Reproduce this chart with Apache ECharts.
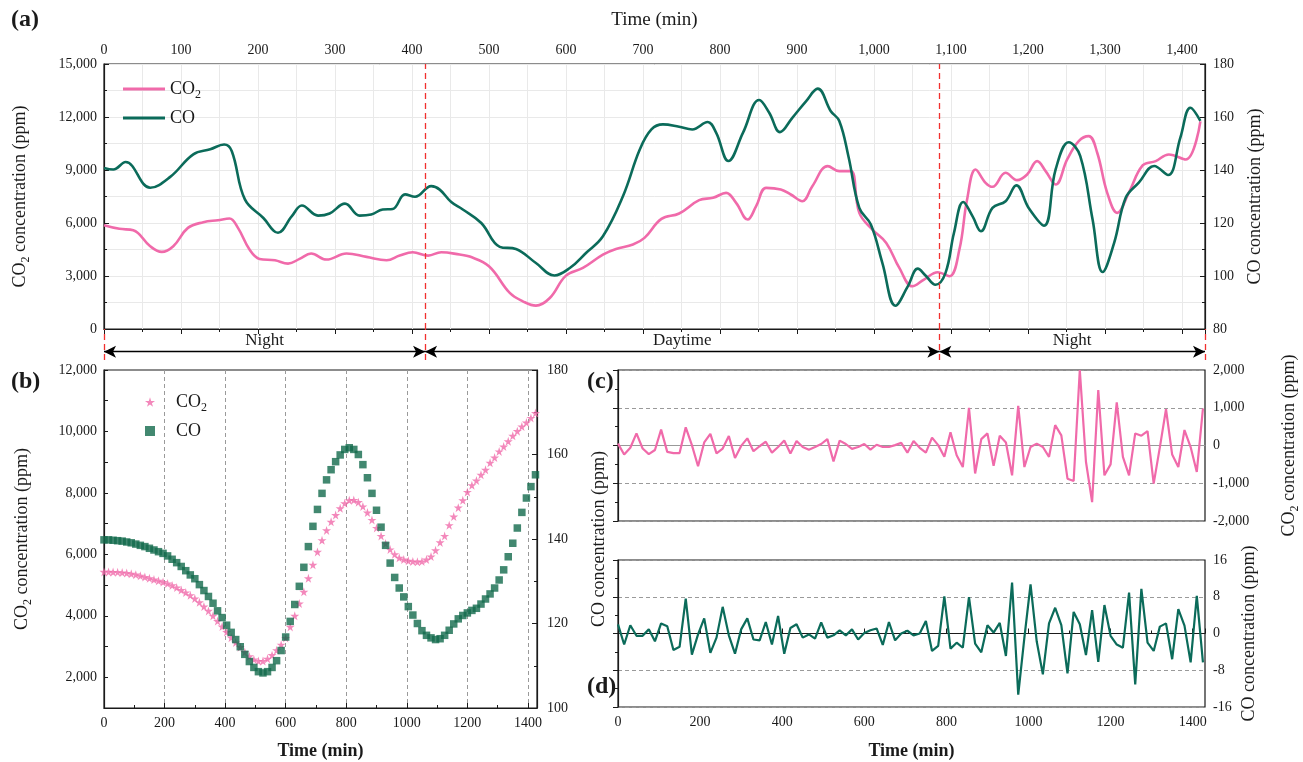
<!DOCTYPE html>
<html><head><meta charset="utf-8">
<script src="https://cdn.jsdelivr.net/npm/echarts@6/dist/echarts.min.js"></script>
<style>html,body{margin:0;padding:0;background:#fff}#c{width:1303px;height:762px}</style>
</head><body><div id="c"></div>
<script>
// ---------- Panel (a): smoothed time series ----------
const timeA_CO2 = [0,20,38,60,75,90,109,129,148,163,174,189,202,222,239,254,269,289,315,341,367,384,401,421,438,462,475,500,527,544,561,579,600,622,648,665,687,702,724,747,773,791,808,821,836,847,860,879,892,907,920,940,955,970,981,998,1016,1033,1050,1065,1083,1098,1111,1121,1132,1145,1154,1171,1186,1199,1212,1223,1236,1251,1266,1279,1290,1303,1316,1331,1349,1366,1383,1405,1424];
const valA_CO2  = [5875,5670,5590,4685,4364,4685,5724,6045,6159,6253,5724,4496,3967,3892,3703,3967,4270,3930,4270,4081,3892,4156,4345,4156,4345,4213,4100,3550,2040,1568,1322,1757,3023,3457,4213,4534,4779,5157,6234,6537,7292,7424,7708,7141,6196,6952,7991,7897,7613,7235,8085,9219,8936,8936,6574,5630,4874,3457,2418,2796,3212,2985,4496,7330,9030,8275,8048,8842,8426,8747,9502,8936,8180,9597,10636,10919,9975,7708,6574,7708,9257,9502,9880,9597,11750];
const timeA_CO = [0,12,28,60,86,116,138,156,166,183,207,226,244,257,278,293,313,332,347,362,375,391,404,425,436,451,466,490,514,535,561,585,605,626,648,674,696,711,726,747,764,784,795,811,830,851,864,878,894,912,927,944,955,967,981,996,1011,1028,1044,1057,1067,1080,1093,1104,1116,1128,1139,1154,1171,1185,1201,1221,1236,1253,1268,1284,1297,1312,1327,1344,1364,1382,1398,1411,1424];
const valA_CO  = [140.8,140.2,143,133.3,137.4,145.9,147.8,149.6,147.1,128.9,121.9,116.3,122.6,126.6,122.8,123.6,127.3,122.8,123.2,125.1,125.3,130.8,129.9,133.9,132.6,127.9,125.1,120,111,110.2,104.9,100.2,103,108.7,115,130.1,147.8,155.3,157.2,156.3,155.3,158.1,154.1,143.4,154.1,166.4,161.6,154.3,159.7,166,170.7,162.2,158.5,145,125.7,119.4,104.9,88.8,96.1,102.8,100.2,96.7,101.2,116.3,127.9,122.6,116.9,125.7,128.2,134.2,125.7,119,140.2,150.5,145.2,121.3,101.5,112.5,129.5,135.2,141.5,138.1,152.2,163.5,158.5];
const periodNames  = ['Night','Daytime','Night'];
const periodBounds = [0,417,1085,1430];

// ---------- Panels (b)(c)(d): 15-min samples ----------
const times15 = [0,15,30,45,60,75,90,105,120,135,150,165,180,195,210,225,240,255,270,285,300,315,330,345,360,375,390,405,420,435,450,465,480,495,510,525,540,555,570,585,600,615,630,645,660,675,690,705,720,735,750,765,780,795,810,825,840,855,870,885,900,915,930,945,960,975,990,1005,1020,1035,1050,1065,1080,1095,1110,1125,1140,1155,1170,1185,1200,1215,1230,1245,1260,1275,1290,1305,1320,1335,1350,1365,1380,1395,1410,1425];
const valB_CO2 = [5430,5430,5425,5420,5410,5395,5370,5340,5300,5260,
 5220,5180,5140,5100,5050,4990,4920,4840,4760,4670,
 4560,4440,4300,4160,4000,3830,3650,3470,3290,3130,
 2980,2820,2680,2580,2530,2530,2600,2720,2880,3060,
 3280,3640,4000,4400,4780,5220,5660,6080,6460,6780,
 7060,7280,7500,7660,7760,7770,7700,7560,7360,7120,
 6860,6600,6350,6160,6000,5890,5830,5790,5770,5760,
 5770,5830,5930,6130,6390,6600,6950,7230,7520,7760,
 8030,8250,8400,8590,8750,8980,9150,9350,9510,9680,
 9860,10010,10160,10290,10440,10600];
const valB_CO = [139.8,139.8,139.7,139.6,139.5,139.3,139.1,138.8,138.5,138.2,
 137.8,137.4,137.0,136.6,136.0,135.2,134.4,133.5,132.5,131.5,
 130.6,129.2,127.8,126.4,124.8,123.0,121.4,119.6,117.9,116.2,
 114.5,112.7,111.0,109.6,108.6,108.3,108.6,109.6,111.2,113.6,
 116.8,120.5,124.5,128.8,133.3,138.2,143.0,147.0,150.8,154.0,
 156.4,158.3,159.9,161.2,161.6,161.2,160.0,157.6,154.5,150.8,
 146.8,142.8,138.5,134.3,130.9,128.4,126.3,124.0,122.0,120.0,
 118.3,117.2,116.6,116.2,116.4,117.2,118.4,119.9,121.1,121.9,
 122.5,123.1,123.6,124.6,125.8,127.0,128.4,130.3,132.7,135.8,
 139.0,142.6,146.3,149.7,152.4,155.2];
const valC_CO2 = [50,-240,-60,320,-80,-230,-120,420,-170,-200,
 -200,480,10,-550,80,310,-210,-80,250,-330,
 -10,190,-150,-20,100,-190,-40,130,-210,120,
 -40,-110,-40,40,170,-420,130,40,-90,-40,
 40,-110,20,-40,-40,10,70,-190,120,-60,
 -190,210,10,-300,350,-260,-570,1000,-740,170,
 320,-540,260,80,-790,1050,-570,-40,50,-40,
 -300,540,270,-880,-940,2000,-430,-1500,1470,-790,
 -500,1140,-300,-790,320,260,380,-1010,-50,960,
 -240,-570,410,-40,-700,980];
const valD_CO = [2.0,-2.4,1.8,-0.5,-0.5,0.9,-1.7,2.2,1.6,-3.6,
 -2.9,7.6,-4.6,-0.2,3.3,-4.2,-0.9,5.8,-0.4,-4.4,
 0.9,3.3,-1.3,-1.5,2.5,-2.4,3.8,-4.4,1.2,2.0,
 -0.9,-0.2,-1.1,2.4,-0.9,-0.4,0.7,-0.4,0.9,-1.3,
 0.1,0.7,1.1,-2.5,2.5,-1.5,0.0,0.6,-0.4,0.0,
 2.7,-3.8,-2.7,8.1,-3.3,-2.0,-3.1,7.9,-2.2,-4.1,
 1.8,0.2,2.3,-4.9,11.1,-13.3,-0.9,10.7,-1.7,-8.9,
 2.2,5.6,1.8,-8.7,4.7,2.0,-4.7,5.1,-6.2,6.2,
 -0.5,-2.4,-3.1,8.9,-11.1,9.7,-2.0,-3.8,1.5,2.2,
 -5.6,5.3,1.7,-6.3,8.2,-6.3];

// ---------- styling ----------
const F = 'Liberation Serif';
const PINK = '#f06aaa', GREEN = '#0b6b5a', GREEN_B = '#136a4c', INK = '#1a1a1a', RED = '#f2302e';
const pair = (t, v) => t.map((x, i) => [x, v[i]]);
const comma = v => String(v).replace(/\B(?=(\d{3})+(?!\d))/g, ',');
const plain = v => String(v);
const richBig = {
  a: {fontFamily: F, fontSize: 18, color: INK, lineHeight: 24},
  s: {fontFamily: F, fontSize: 12, color: INK, lineHeight: 24, verticalAlign: 'bottom'}
};
const co2Name = '{a|CO}{s|2}{a| concentration (ppm)}';
const coName = '{a|CO concentration (ppm)}';
const legFmt = n => n.indexOf('CO2') === 0 ? '{a|CO}{s|2}' : '{a|CO}';

const axLine = {lineStyle: {color: INK, width: 1.2}};
const tick = {inside: true, length: 5, lineStyle: {color: INK}};
const mtick = {show: true, splitNumber: 2, length: 3, lineStyle: {color: INK}};
const lab = (extra) => Object.assign({fontFamily: F, fontSize: 14, color: INK}, extra || {});
const lightGrid = {show: true, lineStyle: {color: '#e9e9e9', width: 1}};
const dashGrid = {show: true, lineStyle: {color: '#9a9a9a', type: [4, 3], width: 1}};
const starPath = 'path://M50,0 L61,35 L98,35 L68,57 L79,91 L50,70 L21,91 L32,57 L2,35 L39,35 Z';

const chart = echarts.init(document.getElementById('c'), null, {renderer: 'canvas'});
const option = {
  backgroundColor: '#fff',
  animation: false,
  title: [
    {text: '(a)', left: 6, top: 3, textStyle: {fontFamily: F, fontSize: 24, fontWeight: 'bold', color: INK}},
    {text: '(b)', left: 6, top: 365, textStyle: {fontFamily: F, fontSize: 24, fontWeight: 'bold', color: INK}},
    {text: '(c)', left: 582, top: 365, textStyle: {fontFamily: F, fontSize: 24, fontWeight: 'bold', color: INK}},
    {text: '(d)', left: 582, top: 670, textStyle: {fontFamily: F, fontSize: 24, fontWeight: 'bold', color: INK}}
  ],
  legend: [
    {data: [{name: 'CO2', icon: 'rect'}, {name: 'CO', icon: 'rect'}], left: 118, top: 75, orient: 'vertical',
     itemWidth: 42, itemHeight: 3, itemGap: 8, formatter: legFmt, textStyle: {rich: richBig}},
    {data: ['CO2 (b)', 'CO (b)'], left: 140, top: 388, orient: 'vertical', itemWidth: 10, itemHeight: 10, itemGap: 8,
     formatter: legFmt, textStyle: {rich: richBig, padding: [0, 0, 0, 16]}}
  ],
  grid: [
    {left: 104, top: 64, width: 1101, height: 265, show: true, borderColor: INK, borderWidth: 1.2},
    {left: 104, top: 329, width: 1101, height: 31, show: false},
    {left: 104, top: 370, width: 433, height: 338, show: true, borderColor: INK, borderWidth: 1.2},
    {left: 618, top: 370, width: 587, height: 151, show: true, borderColor: INK, borderWidth: 1.2},
    {left: 618, top: 560, width: 587, height: 147, show: true, borderColor: INK, borderWidth: 1.2}
  ],
  xAxis: [
    {gridIndex: 0, type: 'value', position: 'top', min: 0, max: 1430, interval: 100,
     name: 'Time (min)', nameLocation: 'middle', nameGap: 34, nameTextStyle: {fontFamily: F, fontSize: 19, color: INK},
     axisLine: axLine, axisTick: tick, minorTick: mtick,
     axisLabel: lab({formatter: comma, showMaxLabel: false, margin: 7}),
     splitLine: lightGrid, minorSplitLine: lightGrid},
    {gridIndex: 1, type: 'value', min: 0, max: 1430, show: false},
    {gridIndex: 2, type: 'value', min: 0, max: 1430, interval: 200,
     name: 'Time (min)', nameLocation: 'middle', nameGap: 34, nameTextStyle: {fontFamily: F, fontSize: 18, fontWeight: 'bold', color: INK},
     axisLine: axLine, axisTick: tick, minorTick: mtick,
     axisLabel: lab({formatter: plain, showMaxLabel: false, margin: 8}), splitLine: dashGrid},
    {gridIndex: 3, type: 'value', min: 0, max: 1430, interval: 200,
     axisLine: {lineStyle: {color: '#999'}}, axisTick: {show: false}, axisLabel: {show: false}, splitLine: {show: false}},
    {gridIndex: 4, type: 'value', min: 0, max: 1430, interval: 200,
     name: 'Time (min)', nameLocation: 'middle', nameGap: 35, nameTextStyle: {fontFamily: F, fontSize: 18, fontWeight: 'bold', color: INK},
     axisLine: axLine, axisTick: tick, minorTick: mtick,
     axisLabel: lab({formatter: plain, showMaxLabel: false, margin: 8}), splitLine: {show: false}}
  ],
  yAxis: [
    {gridIndex: 0, type: 'value', position: 'left', min: 0, max: 15000, interval: 3000,
     name: co2Name, nameLocation: 'middle', nameGap: 72, nameTextStyle: {rich: richBig},
     axisLine: axLine, axisTick: tick, minorTick: mtick, axisLabel: lab({formatter: comma, margin: 7}),
     splitLine: lightGrid, minorSplitLine: lightGrid},
    {gridIndex: 0, type: 'value', position: 'right', min: 80, max: 180, interval: 20,
     name: coName, nameLocation: 'middle', nameGap: 38, nameTextStyle: {rich: richBig},
     axisLine: axLine, axisTick: tick, minorTick: mtick, axisLabel: lab({margin: 8}), splitLine: {show: false}},
    {gridIndex: 1, type: 'value', min: 0, max: 1, show: false},
    {gridIndex: 2, type: 'value', position: 'left', min: 1000, max: 12000,
     name: co2Name, nameLocation: 'middle', nameGap: 70, nameTextStyle: {rich: richBig},
     axisLine: axLine,
     axisTick: {inside: true, length: 4, lineStyle: {color: INK}, customValues: [1000,2000,3000,4000,5000,6000,7000,8000,9000,10000,11000,12000]},
     axisLabel: lab({formatter: comma, margin: 7, customValues: [2000,4000,6000,8000,10000,12000]}),
     splitLine: {show: false}},
    {gridIndex: 2, type: 'value', position: 'right', min: 100, max: 180, interval: 20,
     name: coName, nameLocation: 'middle', nameGap: 50, nameTextStyle: {rich: richBig},
     axisLine: axLine, axisTick: tick, minorTick: mtick, axisLabel: lab({margin: 10}), splitLine: {show: false}},
    {gridIndex: 3, type: 'value', position: 'right', min: -2000, max: 2000, interval: 1000,
     name: co2Name, nameLocation: 'middle', nameGap: 72, nameTextStyle: {rich: richBig},
     axisLine: axLine, axisTick: tick, minorTick: mtick, axisLabel: lab({formatter: comma, margin: 8}), splitLine: dashGrid},
    {gridIndex: 4, type: 'value', position: 'right', min: -16, max: 16, interval: 8,
     name: coName, nameLocation: 'middle', nameGap: 32, nameTextStyle: {rich: richBig},
     axisLine: axLine, axisTick: tick, minorTick: mtick, axisLabel: lab({margin: 8}), splitLine: dashGrid}
  ],
  series: [
    {name: 'CO2', type: 'line', xAxisIndex: 0, yAxisIndex: 0, data: pair(timeA_CO2, valA_CO2),
     smooth: 0.4, symbol: 'none', lineStyle: {color: PINK, width: 2.6}, itemStyle: {color: PINK}, z: 3,
     markLine: {silent: true, symbol: 'none', label: {show: false},
       lineStyle: {color: RED, type: [6, 4], width: 1.3},
       data: [{xAxis: periodBounds[1]}, {xAxis: periodBounds[2]}]}},
    {name: 'CO', type: 'line', xAxisIndex: 0, yAxisIndex: 1, data: pair(timeA_CO, valA_CO),
     smooth: 0.4, symbol: 'none', lineStyle: {color: GREEN, width: 2.6}, itemStyle: {color: GREEN}, z: 4},
    {name: 'periods', type: 'line', xAxisIndex: 1, yAxisIndex: 2, data: [], silent: true,
     markLine: {silent: true, symbol: ['arrow', 'arrow'], symbolSize: [9, 12],
       lineStyle: {color: '#000', type: 'solid', width: 1.3},
       label: {show: true, position: 'insideMiddleTop', distance: 3, formatter: p => p.name,
               fontFamily: F, fontSize: 17, color: INK},
       data: periodNames.map((n, i) => [{name: n, coord: [periodBounds[i], 0.27]}, {coord: [periodBounds[i + 1], 0.27]}])}},
    {name: 'bounds', type: 'line', xAxisIndex: 1, yAxisIndex: 2, data: [], silent: true,
     markLine: {silent: true, symbol: 'none', label: {show: false},
       lineStyle: {color: RED, type: [6, 4], width: 1.3},
       data: periodBounds.map(b => ({xAxis: b}))}},
    {name: 'CO2 (b)', type: 'scatter', xAxisIndex: 2, yAxisIndex: 3, data: pair(times15, valB_CO2),
     symbol: starPath, symbolSize: 9, itemStyle: {color: PINK}},
    {name: 'CO (b)', type: 'scatter', xAxisIndex: 2, yAxisIndex: 4, data: pair(times15, valB_CO),
     symbol: 'rect', symbolSize: 7.5, itemStyle: {color: GREEN_B}},
    {name: 'dCO2', type: 'line', xAxisIndex: 3, yAxisIndex: 5, data: pair(times15, valC_CO2),
     symbol: 'none', lineStyle: {color: PINK, width: 2.2}},
    {name: 'dCO', type: 'line', xAxisIndex: 4, yAxisIndex: 6, data: pair(times15, valD_CO),
     symbol: 'none', lineStyle: {color: GREEN, width: 2.2}}
  ]
};
chart.setOption(option);
</script></body></html>
